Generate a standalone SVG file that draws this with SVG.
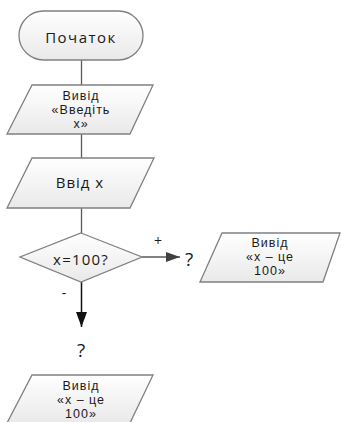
<svg xmlns="http://www.w3.org/2000/svg" width="341" height="422" viewBox="0 0 341 422">
<defs>
<linearGradient id="g" x1="0" y1="0" x2="0" y2="1">
<stop offset="0" stop-color="#ffffff"/>
<stop offset="1" stop-color="#e9e9e9"/>
</linearGradient>
<marker id="ah" markerWidth="14" markerHeight="10" refX="14" refY="5" orient="auto" markerUnits="userSpaceOnUse">
<path d="M0,0 L14,5 L0,10 Z" fill="#404040"/>
</marker>
<marker id="ahd" markerWidth="15" markerHeight="11" refX="15" refY="5.5" orient="auto" markerUnits="userSpaceOnUse">
<path d="M0,0 L15,5.5 L0,11 Z" fill="#111111"/>
</marker>
</defs>
<style>
.s{fill:url(#g);stroke:#808080;stroke-width:1.3}
.t{font-family:"Open Sans","DejaVu Sans",sans-serif;font-size:15px;fill:#1a1a1a;text-anchor:middle}
.m{font-family:"Liberation Sans",Arial,sans-serif;font-size:12.5px;fill:#1a1a1a;text-anchor:middle;letter-spacing:1px}
.c{stroke:#595959;stroke-width:1.3;fill:none}
.l{font-family:"Open Sans","DejaVu Sans",sans-serif;font-size:14px;fill:#1a1a1a;text-anchor:middle}
.q{font-family:"Open Sans","DejaVu Sans",sans-serif;font-size:19px;fill:#1a1a1a;text-anchor:middle}
</style>
<g id="connectors">
<line class="c" x1="81.5" y1="60" x2="81.5" y2="85"/>
<line class="c" x1="81.5" y1="134" x2="81.5" y2="158"/>
<line class="c" x1="81.5" y1="208" x2="81.5" y2="233"/>
<line class="c" x1="142" y1="257" x2="180" y2="257" marker-end="url(#ah)"/>
<line x1="81.5" y1="282" x2="81.5" y2="327" stroke="#111" stroke-width="1.5" marker-end="url(#ahd)"/>
<text class="l" x="158" y="246">+</text>
<text class="l" x="64" y="298">-</text>
<text class="q" x="189" y="266">?</text>
<text class="q" x="81" y="357">?</text>
</g>
<g id="start">
<rect class="s" x="19" y="11" width="124" height="49" rx="24.5"/>
<text class="t" x="81" y="43" letter-spacing="1.5">Початок</text>
</g>
<g id="output1">
<polygon class="s" points="32,85 153,85 130,134 7,134"/>
<text class="m"><tspan x="81" y="100">Вивід</tspan><tspan x="81" y="114">«Введіть</tspan><tspan x="81" y="128">х»</tspan></text>
</g>
<g id="input">
<polygon class="s" points="32,158 154,158 130,208 7,208"/>
<text class="t" x="80" y="188" letter-spacing="1">Ввід х</text>
</g>
<g id="decision">
<polygon class="s" points="81,233 142,257 81,282 20,257"/>
<text class="t" x="81" y="265" letter-spacing="1.2">x=100?</text>
</g>
<g id="output2">
<polygon class="s" points="222,233 340,233 323,282 200,282"/>
<text class="m"><tspan x="270" y="247">Вивід</tspan><tspan x="270" y="261">«х – це</tspan><tspan x="270" y="275">100»</tspan></text>
</g>
<g id="output3">
<polygon class="s" points="32,375 153,375 130,423 7,423"/>
<text class="m"><tspan x="81" y="390">Вивід</tspan><tspan x="81" y="404">«х – це</tspan><tspan x="81" y="418">100»</tspan></text>
</g>
</svg>
